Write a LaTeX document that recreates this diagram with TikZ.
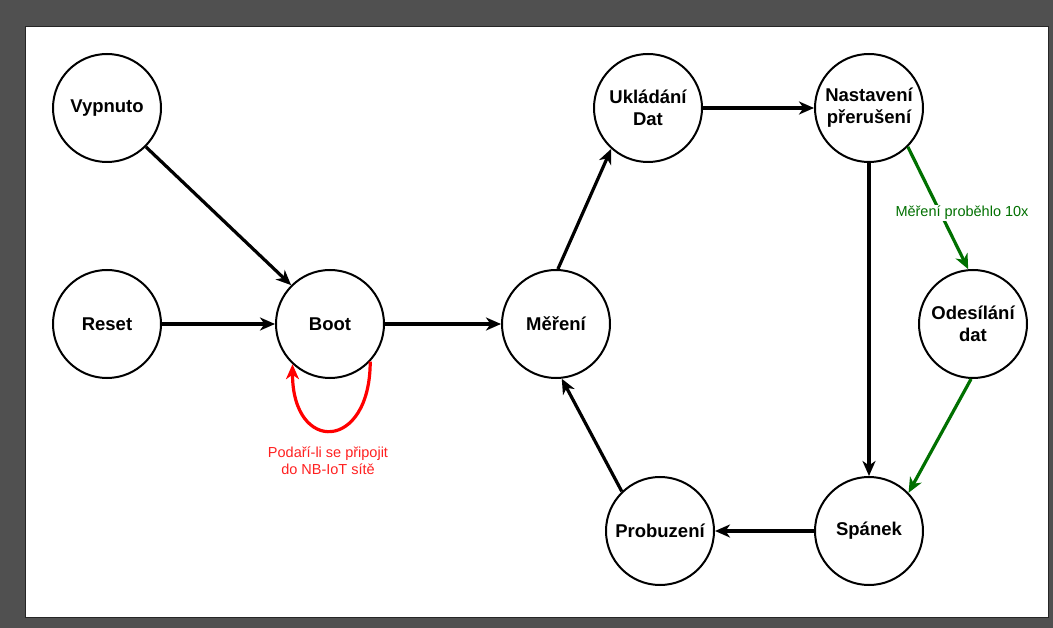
\documentclass[tikz,border=0pt]{standalone}
\usepackage{fontspec}
\setmainfont{Liberation Sans}
\usetikzlibrary{arrows.meta}
\definecolor{frame}{HTML}{505050}
\definecolor{dgreen}{HTML}{007000}
\definecolor{lred}{HTML}{FF2020}
\begin{document}
\begin{tikzpicture}[x=1pt,y=-1pt,
  state/.style={circle,draw=black,line width=2pt,minimum size=108pt,inner sep=0pt,align=center,fill=white,
    font=\fontsize{18.5}{22}\selectfont\bfseries},
  conn/.style={line width=3.2pt,-{Stealth[length=15pt,width=13pt,inset=4.5pt]}},
  elabel/.style={font=\fontsize{14.5}{17}\selectfont,align=center,inner sep=1pt}]
\fill[frame] (0,0) rectangle (1053,628);
\draw[fill=white,draw=black!85,line width=1pt] (25,27) rectangle (1048,617);
\useasboundingbox (0,0) rectangle (1053,628);

\node[state] (v) at (107,108) {Vypnuto};
\node[state] (r) at (107,324) {Reset};
\node[state] (b) at (330,324) {Boot};
\node[state] (m) at (556,324) {Měření};
\node[state] (u) at (648,108) {Ukládání\\Dat};
\node[state] (n) at (869,108) {Nastavení\\přerušení};
\node[state] (o) at (973,324) {Odesílání\\dat};
\node[state] (s) at (869,531) {Spánek};
\node[state] (p) at (660,531) {Probuzení};

\draw[conn] (v.-45) -- (b.135);
\draw[conn] (r) -- (b);
\draw[conn] (b) -- (m);
\draw[conn] (m.88) -- (u.-132);
\draw[conn] (u) -- (n);
\draw[conn] (n) -- (s);
\draw[conn,dgreen] (n.-45) -- (o.95);
\node[elabel,text=dgreen,fill=white] (gl) at (962,213) {Měření proběhlo 10x};
\draw[conn,dgreen] (o.-92) -- (s.44);
\draw[conn] (s) -- (p);
\draw[conn] (p.134) -- (m.-84);
\draw[conn,red] (b.-43) .. controls +(0,90) and +(0,90) .. (b.-133);
\node[elabel,text=lred] (rl) at (328,461) {Podaří-li se připojit\\do NB-IoT sítě};
\end{tikzpicture}
\end{document}
